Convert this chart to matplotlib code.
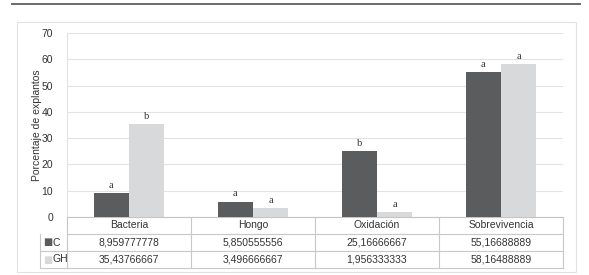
import matplotlib; matplotlib.use('Agg')
import matplotlib.pyplot as plt
from matplotlib.patches import Rectangle
from matplotlib.lines import Line2D
import matplotlib.transforms as mtrans
import numpy as np

categories = ['Bacteria', 'Hongo', 'Oxidación', 'Sobrevivencia']
series = ['C', 'GH']
c_vals = [8.959777778, 5.850555556, 25.16666667, 55.16688889]
gh_vals = [35.43766667, 3.496666667, 1.956333333, 58.16488889]
c_letters = ['a', 'a', 'b', 'a']
gh_letters = ['b', 'a', 'a', 'a']
colors = ['#5b5c5e', '#d8d9db']

plt.rcParams['font.family'] = ['Liberation Sans', 'DejaVu Sans']

W, H = 589, 275
fig = plt.figure(figsize=(W / 100, H / 100), dpi=100)
fig.patch.set_facecolor('white')

def fx(px): return px / W
def fy(py): return 1 - py / H

# top rule and outer frame
fig.add_artist(Line2D([fx(12), fx(580)], [fy(4), fy(4)], color='#6a6a6a', lw=1.4))
fig.add_artist(Rectangle((fx(17), fy(272)), fx(576) - fx(17), fy(22) - fy(272),
                         fill=False, edgecolor='#e2e2e2', lw=0.8))

x0, x1, ytop, ybot = 67, 563, 33, 217
ax = fig.add_axes([fx(x0), fy(ybot), fx(x1) - fx(x0), fy(ytop) - fy(ybot)])

x = np.arange(len(categories))
bw = 0.285
b1 = ax.bar(x - bw / 2, c_vals, bw, color=colors[0], zorder=3)
b2 = ax.bar(x + bw / 2, gh_vals, bw, color=colors[1], zorder=3)

for bars, letters in [(b1, c_letters), (b2, gh_letters)]:
    for bar, lt in zip(bars, letters):
        ax.text(bar.get_x() + bar.get_width() / 2, bar.get_height() + 1.2, lt,
                ha='center', va='bottom', fontsize=7.5, family='Liberation Serif',
                color='#333333', zorder=4)

ax.set_xlim(-0.5, 3.5)
ax.set_ylim(0, 70)
ax.set_yticks(range(0, 71, 10))
ax.yaxis.grid(True, color='#e3e3e3', lw=0.8, zorder=0)
ax.set_xticks([])
ax.tick_params(axis='y', length=0, labelsize=7.5, colors='#333333', pad=10)
for s in ['top', 'right']:
    ax.spines[s].set_visible(False)
ax.spines['left'].set_color('#e3e3e3')
ax.spines['bottom'].set_color('#c4c4c4')
ax.set_ylabel('Porcentaje de explantos', fontsize=7.5, color='#333333')
ax.yaxis.set_label_coords(-25 / (x1 - x0), 0.5)

# data table under the axes
tr = mtrans.blended_transform_factory(ax.transData, ax.transAxes)
rh = 17 / (ybot - ytop)
lc = '#c8c8c8'
xl = -0.5 - 27 / 124  # left edge of row-label column in data units
for i in range(1, 4):
    ax.plot([xl if i > 1 else -0.5, 3.5], [-i * rh] * 2, color=lc, lw=0.8,
            transform=tr, clip_on=False)
for b in np.arange(-0.5, 3.6, 1):
    ax.plot([b, b], [0, -3 * rh], color=lc, lw=0.8, transform=tr, clip_on=False)
ax.plot([xl, xl], [-rh, -3 * rh], color=lc, lw=0.8, transform=tr, clip_on=False)

def fmt(v):
    return f'{v:.10g}'.replace('.', ',')

for i, cat in enumerate(categories):
    ax.text(i, -0.5 * rh, cat, ha='center', va='center', fontsize=7.5,
            color='#333333', transform=tr)
    ax.text(i, -1.5 * rh, fmt(c_vals[i]), ha='center', va='center', fontsize=7.5,
            color='#333333', transform=tr)
    ax.text(i, -2.5 * rh, fmt(gh_vals[i]), ha='center', va='center', fontsize=7.5,
            color='#333333', transform=tr)

for r, (name, col) in enumerate(zip(series, colors)):
    yc = -(r + 1.5) * rh
    ax.text(xl + 0.025, yc, '■', ha='left', va='center', fontsize=7, color=col,
            family='DejaVu Sans', transform=tr)
    ax.text(xl + 0.1, yc, name, ha='left', va='center', fontsize=7.5,
            color='#333333', transform=tr)

plt.savefig('out.png', dpi=100, facecolor='white')
